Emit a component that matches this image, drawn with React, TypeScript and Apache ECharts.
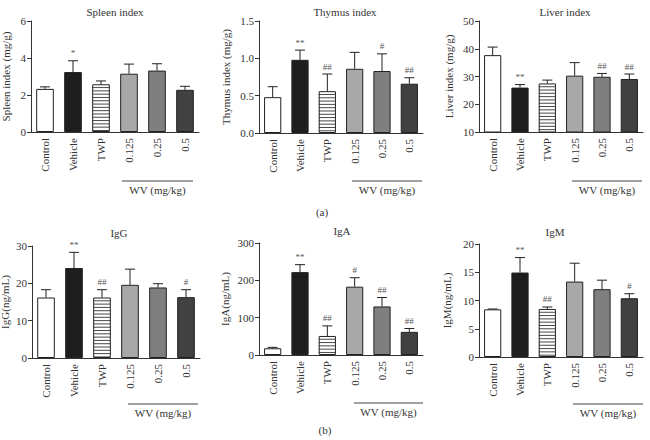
import React, { useEffect, useRef } from "react";
import * as echarts from "echarts";

const CATEGORIES = ["Control", "Vehicle", "TWP", "0.125", "0.25", "0.5"];

const SPLEEN_MEAN = [2.33, 3.24, 2.58, 3.15, 3.32, 2.28];
const SPLEEN_TOP = [2.44, 3.85, 2.76, 3.67, 3.69, 2.47];
const SPLEEN_MARK = ["", "*", "", "", "", ""];

const THYMUS_MEAN = [0.48, 0.98, 0.56, 0.86, 0.83, 0.66];
const THYMUS_TOP = [0.62, 1.11, 0.79, 1.08, 1.06, 0.74];
const THYMUS_MARK = ["", "**", "##", "", "#", "##"];

const LIVER_MEAN = [37.7, 26.0, 27.5, 30.3, 29.9, 29.1];
const LIVER_TOP = [40.6, 27.1, 28.7, 35.0, 31.1, 30.9];
const LIVER_MARK = ["", "**", "", "", "##", "##"];

const IGG_MEAN = [16.2, 24.1, 16.2, 19.6, 18.9, 16.3];
const IGG_TOP = [18.3, 28.3, 18.3, 23.8, 19.9, 18.3];
const IGG_MARK = ["", "**", "##", "", "", "#"];

const IGA_MEAN = [18, 222, 51, 183, 130, 62];
const IGA_TOP = [20.5, 242, 78, 207, 154, 71];
const IGA_MARK = ["", "**", "##", "#", "##", "##"];

const IGM_MEAN = [8.43, 14.95, 8.5, 13.35, 12.0, 10.4];
const IGM_TOP = [8.5, 17.6, 8.85, 16.6, 13.6, 11.2];
const IGM_MARK = ["", "**", "##", "", "", "#"];

const FONT = '"Liberation Serif", "Times New Roman", serif';
const BAR_RATIO = 0.63;

type Panel = {
  title: string;
  yName: string;
  mean: number[];
  top: number[];
  mark: string[];
  min: number;
  max: number;
  interval: number;
  decimals: number;
  grid: { left: number; top: number; width: number; height: number };
  nameGap: number;
  titleX: number;
  titleY: number;
};

const PANELS: Panel[] = [
  { title: "Spleen index", yName: "Spleen index (mg/g)", mean: SPLEEN_MEAN, top: SPLEEN_TOP, mark: SPLEEN_MARK, min: 0, max: 6, interval: 2, decimals: 0, grid: { left: 31, top: 21, width: 168, height: 111 }, nameGap: 20, titleX: 115, titleY: 12 },
  { title: "Thymus index", yName: "Thymus index (mg/g)", mean: THYMUS_MEAN, top: THYMUS_TOP, mark: THYMUS_MARK, min: 0, max: 1.5, interval: 0.5, decimals: 1, grid: { left: 259, top: 21, width: 164, height: 112 }, nameGap: 28, titleX: 345, titleY: 12 },
  { title: "Liver index", yName: "Liver index (mg/g)", mean: LIVER_MEAN, top: LIVER_TOP, mark: LIVER_MARK, min: 10, max: 50, interval: 10, decimals: 0, grid: { left: 479, top: 21, width: 164, height: 111 }, nameGap: 25, titleX: 565, titleY: 12 },
  { title: "IgG", yName: "IgG(ng/mL)", mean: IGG_MEAN, top: IGG_TOP, mark: IGG_MARK, min: 0, max: 30, interval: 10, decimals: 0, grid: { left: 32, top: 246, width: 168, height: 112 }, nameGap: 22, titleX: 119, titleY: 233 },
  { title: "IgA", yName: "IgA(ng/mL)", mean: IGA_MEAN, top: IGA_TOP, mark: IGA_MARK, min: 0, max: 300, interval: 100, decimals: 0, grid: { left: 259, top: 243, width: 164, height: 112 }, nameGap: 29, titleX: 342, titleY: 231 },
  { title: "IgM", yName: "IgM(ng/mL)", mean: IGM_MEAN, top: IGM_TOP, mark: IGM_MARK, min: 0, max: 20, interval: 5, decimals: 0, grid: { left: 479, top: 244, width: 164, height: 113 }, nameGap: 27, titleX: 555, titleY: 232 },
];

const WV_LINES = [
  { x1: 122, x2: 193, y: 181 },
  { x1: 352, x2: 422, y: 181 },
  { x1: 572, x2: 642, y: 181 },
  { x1: 128, x2: 198, y: 404 },
  { x1: 354, x2: 423, y: 403 },
  { x1: 573, x2: 643, y: 404 },
];

const BAR_COLORS = ["#ffffff", "#1e1e1e", "#ffffff", "#a8a8a8", "#7f7f7f", "#414141"];

export default function App() {
  const ref = useRef<HTMLDivElement>(null);
  useEffect(() => {
    if (!ref.current) return;
    const chart = echarts.init(ref.current, undefined, { renderer: "svg" });

    const grids: any[] = [];
    const xAxes: any[] = [];
    const yAxes: any[] = [];
    const series: any[] = [];
    const graphics: any[] = [];

    PANELS.forEach((p, k) => {
      grids.push({ ...p.grid, containLabel: false, outerBoundsMode: "none" });
      xAxes.push({
        type: "category",
        gridIndex: k,
        data: CATEGORIES,
        axisLine: { lineStyle: { color: "#333", width: 1 } },
        axisTick: { alignWithLabel: true, length: 3, lineStyle: { color: "#333" } },
        axisLabel: { rotate: 90, margin: 6, fontSize: 11, color: "#333", fontFamily: FONT, interval: 0 },
      });
      yAxes.push({
        type: "value",
        gridIndex: k,
        min: p.min,
        max: p.max,
        interval: p.interval,
        name: p.yName,
        nameLocation: "middle",
        nameGap: p.nameGap,
        nameTextStyle: { fontSize: 11, color: "#333", fontFamily: FONT },
        splitLine: { show: false },
        axisLine: { show: true, lineStyle: { color: "#333", width: 1 } },
        axisTick: { show: true, length: 4, lineStyle: { color: "#333" } },
        axisLabel: {
          fontSize: 11,
          color: "#333",
          fontFamily: FONT,
          margin: 5,
          formatter: (v: number) => v.toFixed(p.decimals),
        },
      });
      series.push({
        type: "bar",
        xAxisIndex: k,
        yAxisIndex: k,
        barWidth: BAR_RATIO * 100 + "%",
        data: p.mean.map((v, i) => ({
          value: v,
          itemStyle: { color: BAR_COLORS[i], borderColor: "#222", borderWidth: 1 },
        })),
      });
      series.push({
        type: "custom",
        xAxisIndex: k,
        yAxisIndex: k,
        z: 5,
        data: p.mean.map((v, i) => [i, v, p.top[i]]),
        renderItem: (params: any, api: any) => {
          const i = api.value(0);
          const p0 = api.coord([i, api.value(1)]);
          const p1 = api.coord([i, api.value(2)]);
          const pb = api.coord([i, p.min]);
          const cap = 5;
          const children: any[] = [];
          if (params.dataIndex === 2) {
            const w = api.size([1, 0])[0] * BAR_RATIO;
            const xl = p0[0] - w / 2;
            const xr = p0[0] + w / 2;
            for (let y = p0[1] + 3.3; y < pb[1] - 0.8; y += 3.3) {
              children.push({
                type: "line",
                shape: { x1: xl, y1: y, x2: xr, y2: y },
                style: { stroke: "#333", lineWidth: 0.9 },
              });
            }
          }
          children.push(
            { type: "line", shape: { x1: p0[0], y1: p0[1], x2: p1[0], y2: p1[1] }, style: { stroke: "#222", lineWidth: 1 } },
            { type: "line", shape: { x1: p1[0] - cap, y1: p1[1], x2: p1[0] + cap, y2: p1[1] }, style: { stroke: "#222", lineWidth: 1 } }
          );
          const m = p.mark[params.dataIndex];
          if (m) {
            children.push({
              type: "text",
              x: p1[0],
              y: p1[1] - 3,
              style: { text: m, align: "center", verticalAlign: "bottom", fontSize: 9, fill: "#555", fontFamily: FONT },
            });
          }
          return { type: "group", children };
        },
      });
      graphics.push({
        type: "text",
        x: p.titleX,
        y: p.titleY,
        style: { text: p.title, align: "center", verticalAlign: "middle", fontSize: 11, fontWeight: "normal", fill: "#333", fontFamily: FONT },
      });
    });

    WV_LINES.forEach((l) => {
      graphics.push({ type: "line", shape: { x1: l.x1, y1: l.y, x2: l.x2, y2: l.y }, style: { stroke: "#444", lineWidth: 1 } });
      graphics.push({
        type: "text",
        x: (l.x1 + l.x2) / 2,
        y: l.y + 9,
        style: { text: "WV (mg/kg)", align: "center", verticalAlign: "middle", fontSize: 11, fill: "#333", fontFamily: FONT },
      });
    });
    graphics.push({ type: "text", x: 322, y: 212, style: { text: "(a)", align: "center", verticalAlign: "middle", fontSize: 11, fill: "#333", fontFamily: FONT } });
    graphics.push({ type: "text", x: 325, y: 430, style: { text: "(b)", align: "center", verticalAlign: "middle", fontSize: 11, fill: "#333", fontFamily: FONT } });

    chart.setOption({
      animation: false,
      backgroundColor: "#ffffff",
      grid: grids,
      xAxis: xAxes,
      yAxis: yAxes,
      series,
      graphic: graphics,
    });
    return () => chart.dispose();
  }, []);
  return <div ref={ref} style={{ position: "fixed", left: 0, top: 0, width: 650, height: 440 }} />;
}
